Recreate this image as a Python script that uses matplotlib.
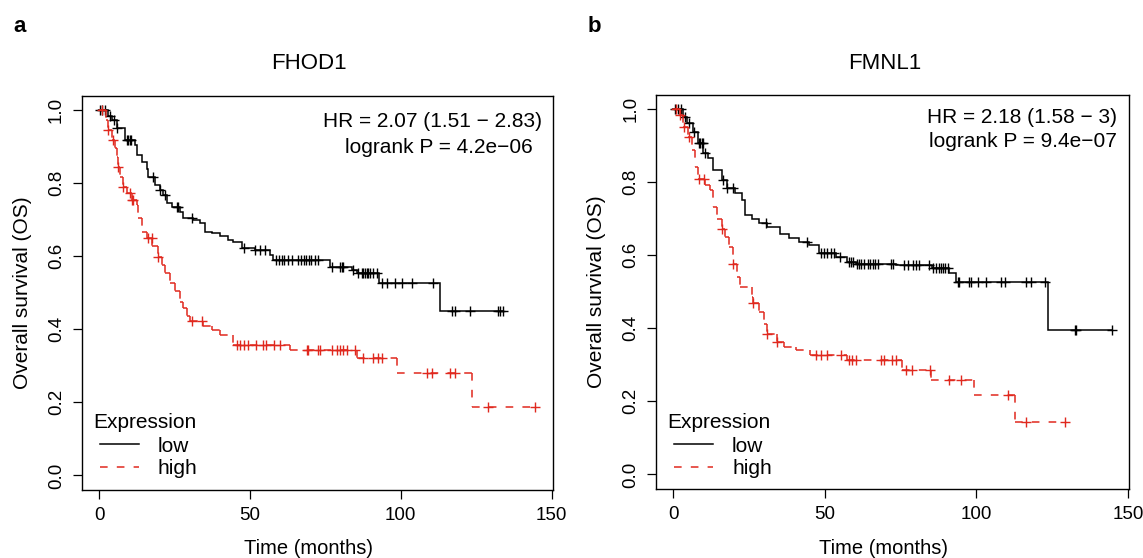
import numpy as np
import matplotlib
matplotlib.use("Agg")
import matplotlib.pyplot as plt
from matplotlib.collections import LineCollection

plt.rcParams['font.family'] = ['Liberation Sans', 'DejaVu Sans']

# ---- FHOD1 (panel a) ----
a_low_t = [3.1, 4.2, 5.9, 8.6, 11.9, 12.5, 14.1, 15.8, 16.3, 18.6, 20.2, 21.3, 22.4, 24.1,
           26.8, 27.9, 31.2, 33.4, 35.1, 37.3, 40.1, 42.8, 44.4, 47.3, 51.7, 56.7, 57.7,
           76.5, 84.0, 85.5, 92.8, 113.0]
a_low_s = [0.985, 0.973, 0.95, 0.918, 0.904, 0.877, 0.858, 0.84, 0.817, 0.795, 0.781, 0.767,
           0.745, 0.736, 0.722, 0.704, 0.699, 0.69, 0.667, 0.663, 0.654, 0.645, 0.64, 0.623,
           0.617, 0.604, 0.59, 0.571, 0.562, 0.553, 0.526, 0.451]
a_low_end = 134.0
a_low_cens = [0.3, 1.0, 1.9, 3.6, 4.8, 5.9, 9.2, 9.6, 10.1, 10.6, 18.0, 20.2, 21.9, 25.7, 26.3,
              30.7, 48.0, 51.7, 53.3, 55.0, 58.5, 59.5, 60.5, 61.3, 62.5, 64.0, 66.0, 67.0,
              67.8, 68.6, 69.5, 70.4, 71.5, 72.6, 77.1, 79.9, 80.4, 81.0, 84.3, 85.9, 87.0,
              87.6, 88.1, 88.7, 89.2, 89.8, 90.9, 92.0, 93.7, 95.3, 98.0, 100.3, 103.6,
              110.6, 116.9, 118.0, 122.9, 132.2, 132.9, 134.0]

a_high_t = [2.3, 3.1, 4.2, 5.3, 5.9, 6.4, 7.0, 8.1, 9.2, 10.8, 12.5, 13.0, 14.1, 15.8, 17.5,
            19.6, 20.8, 21.9, 23.5, 25.2, 26.8, 27.9, 29.0, 30.2, 34.6, 37.3, 40.1, 44.3,
            63.3, 85.4, 98.6, 123.5]
a_high_s = [0.973, 0.945, 0.918, 0.895, 0.872, 0.845, 0.818, 0.79, 0.772, 0.754, 0.74, 0.704,
            0.667, 0.649, 0.627, 0.599, 0.577, 0.554, 0.526, 0.504, 0.476, 0.458, 0.435,
            0.422, 0.41, 0.399, 0.383, 0.358, 0.342, 0.321, 0.279, 0.188]
a_high_end = 144.5
a_high_cens = [1.0, 3.1, 4.7, 6.4, 8.1, 10.3, 10.8, 11.4, 16.3, 17.4, 19.6, 30.7, 34.0, 45.6,
               46.7, 48.0, 49.5, 52.0, 54.4, 55.5, 58.0, 60.0, 68.8, 69.4, 72.7, 73.2, 77.1,
               78.8, 79.9, 81.0, 82.1, 84.8, 87.6, 90.9, 92.5, 93.7, 108.6, 110.2, 116.3,
               118.0, 129.0, 144.5]

# ---- FMNL1 (panel b) ----
b_low_t = [3.2, 4.4, 6.6, 8.2, 9.9, 11.5, 13.2, 16.0, 17.6, 20.4, 22.6, 23.7, 25.9, 28.1,
           30.9, 35.3, 38.0, 41.4, 44.7, 48.0, 53.5, 57.4, 60.1, 73.4, 85.5, 91.0, 93.3, 123.7]
b_low_s = [0.979, 0.961, 0.938, 0.906, 0.879, 0.865, 0.833, 0.805, 0.783, 0.769, 0.751, 0.71,
           0.70, 0.687, 0.678, 0.659, 0.646, 0.636, 0.627, 0.605, 0.595, 0.582, 0.577, 0.573,
           0.564, 0.55, 0.527, 0.395]
b_low_end = 144.6
b_low_cens = [0.5, 1.5, 2.5, 3.8, 5.0, 6.8, 8.3, 8.8, 9.3, 9.8, 10.3, 16.5, 17.8, 19.5, 30.5,
              44.2, 48.6, 49.7, 50.8, 52.0, 53.0, 55.0, 57.9, 58.6, 59.4, 60.5, 61.2, 62.0,
              63.0, 64.2, 65.0, 65.8, 66.6, 67.4, 71.7, 72.5, 76.1, 77.5, 79.0, 80.0, 81.0,
              84.5, 85.8, 86.7, 87.5, 88.3, 89.0, 89.8, 90.6, 93.8, 94.4, 97.7, 98.2, 100.5,
              103.2, 108.2, 109.3, 116.5, 118.1, 122.5, 132.5, 133.0, 144.6]

b_high_t = [2.2, 3.2, 4.9, 6.0, 7.1, 8.2, 10.4, 12.1, 13.2, 14.3, 16.0, 17.1, 18.2, 19.8,
            20.9, 22.0, 25.9, 26.4, 28.1, 29.8, 30.9, 34.2, 36.4, 40.3, 45.2, 57.4, 75.6,
            85.0, 99.3, 112.6]
b_high_s = [0.984, 0.952, 0.924, 0.888, 0.842, 0.81, 0.792, 0.778, 0.732, 0.70, 0.673, 0.65,
            0.623, 0.577, 0.541, 0.513, 0.486, 0.468, 0.445, 0.413, 0.385, 0.362, 0.349,
            0.34, 0.326, 0.314, 0.287, 0.258, 0.216, 0.143]
b_high_end = 129.2
b_high_cens = [0.8, 2.2, 3.5, 5.0, 8.5, 10.0, 16.0, 19.8, 26.4, 30.9, 34.2, 46.9, 48.6, 50.8,
               55.2, 57.9, 59.0, 60.1, 68.4, 69.5, 72.3, 73.4, 76.7, 78.9, 84.8, 91.0, 94.9,
               110.4, 116.5, 129.2]

genes = ['FHOD1', 'FMNL1']
hr_text = ['HR = 2.07 (1.51 \u2212 2.83)', 'HR = 2.18 (1.58 \u2212 3)']
p_text = ['logrank P = 4.2e\u221206', 'logrank P = 9.4e\u221207']
letters = ['a', 'b']

RED = '#E0281E'
W, H = 1143, 558
fig = plt.figure(figsize=(W / 100, H / 100), dpi=100)


def step_xy(t, s, end):
    x = [0.0]
    y = [1.0]
    for ti, si in zip(t, s):
        x += [ti, ti]
        y += [y[-1], si]
    x.append(end)
    y.append(y[-1])
    return np.array(x), np.array(y)


def cens_y(t, s, cens):
    vals = np.concatenate([[1.0], s])
    return vals[np.searchsorted(t, cens, side='right')]


def draw_panel(box, gene, low, high, hr, pv, letter, hr_pos):
    l, t, r, b = box
    ax = fig.add_axes([l / W, 1 - b / H, (r - l) / W, (b - t) / H])
    fx = lambda px: (px - l) / (r - l)
    fy = lambda py: (b - py) / (b - t)
    mid = (l + r) / 2

    # low: solid black
    x, y = step_xy(*low[:3])
    ax.plot(x, y, color='black', lw=1.1, solid_joinstyle='miter')
    ax.plot(low[3], cens_y(low[0], low[1], low[3]), '+', color='black', ms=7, mew=1.0)

    # high: dashed red, dash pattern restarts on each segment
    x, y = step_xy(*high[:3])
    pts = np.column_stack([x, y])
    segs = [pts[i:i + 2] for i in range(len(pts) - 1) if not np.allclose(pts[i], pts[i + 1])]
    lc = LineCollection(segs, colors=RED, linewidths=1.1, linestyles=[(0, (5, 6))])
    ax.add_collection(lc)
    ax.plot(high[3], cens_y(high[0], high[1], high[3]), '+', color=RED, ms=7, mew=1.0)

    ax.set_xlim(-5.75, 150.3)
    ax.set_ylim(-0.04, 1.04)
    ax.set_xticks([0, 50, 100, 150])
    ax.set_yticks([0.0, 0.2, 0.4, 0.6, 0.8, 1.0])
    ax.set_yticklabels(['0.0', '0.2', '0.4', '0.6', '0.8', '1.0'], rotation=90, va='center')
    ax.tick_params(length=6.5, width=0.9, pad=5.5, labelsize=13.5, direction='out')
    for sp in ax.spines.values():
        sp.set_linewidth(1.0)

    ax.set_xlabel('Time (months)', fontsize=14.5)
    ax.xaxis.set_label_coords(fx(mid - 9), fy(548))
    ax.xaxis.label.set_va('center')
    ax.set_ylabel('Overall survival (OS)', fontsize=15)
    ax.yaxis.set_label_coords(fx(l - 59.5), 0.5)
    ax.yaxis.label.set_va('center')

    ax.text(fx(mid - 8), fy(69.3), gene, transform=ax.transAxes, ha='center', va='baseline',
            fontsize=16)
    fig.text((l - 62) / W, 1 - 26 / H, letter, ha='center', va='center',
             fontsize=16, fontweight='bold')

    (x1, y1), (x2, y2) = hr_pos
    ax.text(fx(x1), fy(y1), hr, transform=ax.transAxes, ha='right', va='baseline', fontsize=15)
    ax.text(fx(x2), fy(y2), pv, transform=ax.transAxes, ha='right', va='baseline', fontsize=15)

    # legend
    ax.text(fx(l + 11.5), fy(427.5), 'Expression', transform=ax.transAxes,
            ha='left', va='baseline', fontsize=15)
    ax.plot([fx(l + 18.3), fx(l + 57)], [fy(444), fy(444)], transform=ax.transAxes,
            color='black', lw=1.1)
    ax.plot([fx(l + 18.3), fx(l + 57)], [fy(467), fy(467)], transform=ax.transAxes,
            color=RED, lw=1.1, linestyle=(0, (5, 6)))
    ax.text(fx(l + 76), fy(451.5), 'low', transform=ax.transAxes,
            ha='left', va='baseline', fontsize=15)
    ax.text(fx(l + 76), fy(474.5), 'high', transform=ax.transAxes,
            ha='left', va='baseline', fontsize=15)
    return ax


draw_panel((81.7, 95.5, 552.5, 490), genes[0],
           (a_low_t, a_low_s, a_low_end, a_low_cens),
           (a_high_t, a_high_s, a_high_end, a_high_cens),
           hr_text[0], p_text[0], letters[0], ((541.7, 126.7), (533, 153.3)))
draw_panel((656, 94.5, 1128.8, 489), genes[1],
           (b_low_t, b_low_s, b_low_end, b_low_cens),
           (b_high_t, b_high_s, b_high_end, b_high_cens),
           hr_text[1], p_text[1], letters[1], ((1116.7, 123.3), (1116.7, 147.3)))

fig.savefig('out.png', dpi=100)
